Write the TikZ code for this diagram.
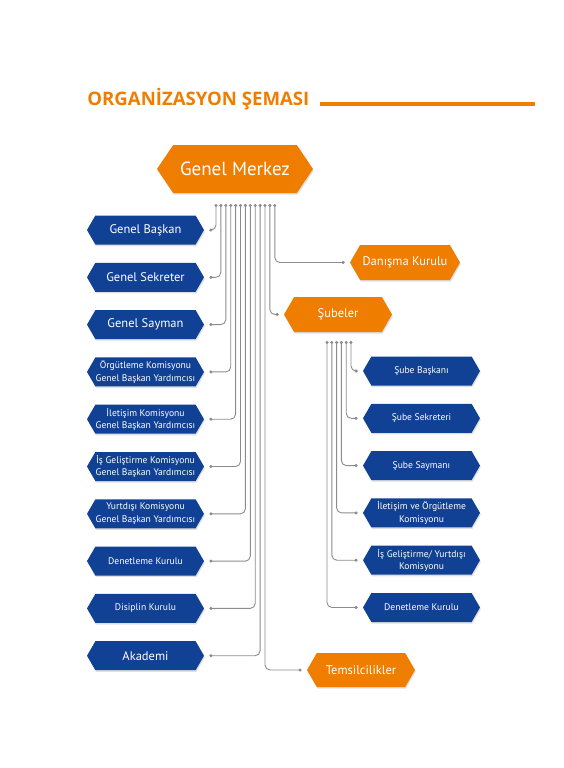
\documentclass[tikz,border=0pt]{standalone}
\usepackage{fontspec}
\setmainfont{PT Sans}
\newfontfamily\titlefont{Open Sans}
\usetikzlibrary{shapes.symbols,shadows,arrows.meta}

\definecolor{orgorange}{RGB}{239,125,0}
\definecolor{orgblue}{RGB}{16,65,148}
\definecolor{orgline}{RGB}{140,140,140}

\tikzset{every picture/.style={line width=0.75pt}}
\tikzset{
  hexbox/.style={signal, signal to=west and east, signal pointer angle=120, inner sep=0pt, text=white, align=center,
    drop shadow={opacity=0.25, shadow xshift=0.8pt, shadow yshift=-1.6pt}},
  bluebox/.style={hexbox, fill=orgblue, minimum width=117pt, minimum height=29pt},
  orangebox/.style={hexbox, fill=orgorange},
  bigtext/.style={font=\fontsize{12.5}{14}\selectfont},
  smalltext/.style={font=\fontsize{9.6}{12.5}\selectfont},
  link/.style={draw=orgline, line width=0.9pt, rounded corners=5pt, {Circle[length=3pt]}-{Circle[length=3pt]}, shorten >=5pt},
}

\begin{document}
\begin{tikzpicture}[x=1pt,y=1pt,yscale=-1,xscale=1]
\useasboundingbox (0,0) rectangle (564,768);

% Title
\node [anchor=base west, inner sep=0pt, text=orgorange, font=\titlefont\bfseries\fontsize{18.6}{20}\selectfont] (title) at (87,105) {ORGANİZASYON ŞEMASI};
\draw [orgorange, line width=4pt] (320,104) -- (535,104);

% Genel Merkez
\node [orangebox, minimum width=156pt, minimum height=48pt, signal pointer angle=112, font=\fontsize{19}{22}\selectfont] (gm) at (235,169) {Genel Merkez};

% left column
\node [bluebox, bigtext] (gb) at (145.5,230) {Genel Başkan};
\node [bluebox, bigtext] (gs) at (145.5,277.3) {Genel Sekreter};
\node [bluebox, bigtext] (gsy) at (145.5,324.6) {Genel Sayman};
\node [bluebox, smalltext] (ork) at (145.5,371.9) {Örgütleme Komisyonu\\Genel Başkan Yardımcısı};
\node [bluebox, smalltext] (ilk) at (145.5,419.2) {İletişim Komisyonu\\Genel Başkan Yardımcısı};
\node [bluebox, smalltext] (igk) at (145.5,466.5) {İş Geliştirme Komisyonu\\Genel Başkan Yardımcısı};
\node [bluebox, smalltext] (ydk) at (145.5,513.8) {Yurtdışı Komisyonu\\Genel Başkan Yardımcısı};
\node [bluebox, smalltext] (dnk) at (145.5,561.1) {Denetleme Kurulu};
\node [bluebox, smalltext] (dsk) at (145.5,608.4) {Disiplin Kurulu};
\node [bluebox, bigtext] (akd) at (145.5,655.7) {Akademi};

% right side
\node [orangebox, minimum width=110pt, minimum height=35pt, bigtext] (dk) at (405,262.5) {Danışma Kurulu};
\node [orangebox, minimum width=108pt, minimum height=35pt, bigtext] (sb) at (338,314.5) {Şubeler};
\node [orangebox, minimum width=108pt, minimum height=34pt, bigtext] (tm) at (361,670) {Temsilcilikler};

% Subeler column
\node [bluebox, smalltext] (sbb) at (421.5,371) {Şube Başkanı};
\node [bluebox, smalltext] (sbs) at (421.5,418.3) {Şube Sekreteri};
\node [bluebox, smalltext] (sby) at (421.5,465.6) {Şube Saymanı};
\node [bluebox, smalltext] (sbi) at (421.5,512.9) {İletişim ve Örgütleme\\Komisyonu};
\node [bluebox, smalltext] (sbg) at (421.5,560.2) {İş Geliştirme/ Yurtdışı\\Komisyonu};
\node [bluebox, smalltext] (sbd) at (421.5,607.5) {Denetleme Kurulu};

% line tops
\foreach \i in {0,...,12} \coordinate (t\i) at (216+4.9*\i,204);
\foreach \j in {0,...,5} \coordinate (s\j) at (327+4.8*\j,341);

% Connectors
\foreach \i/\n in {0/gb,1/gs,2/gsy,3/ork,4/ilk,5/igk,6/ydk,7/dnk,8/dsk,9/akd}
  \draw [link] (t\i) |- (\n.east);
\foreach \i/\n in {10/tm,11/sb,12/dk}
  \draw [link] (t\i) |- (\n.west);
\foreach \j/\n in {5/sbb,4/sbs,3/sby,2/sbi,1/sbg,0/sbd}
  \draw [link] (s\j) |- (\n.west);

\end{tikzpicture}
\end{document}
